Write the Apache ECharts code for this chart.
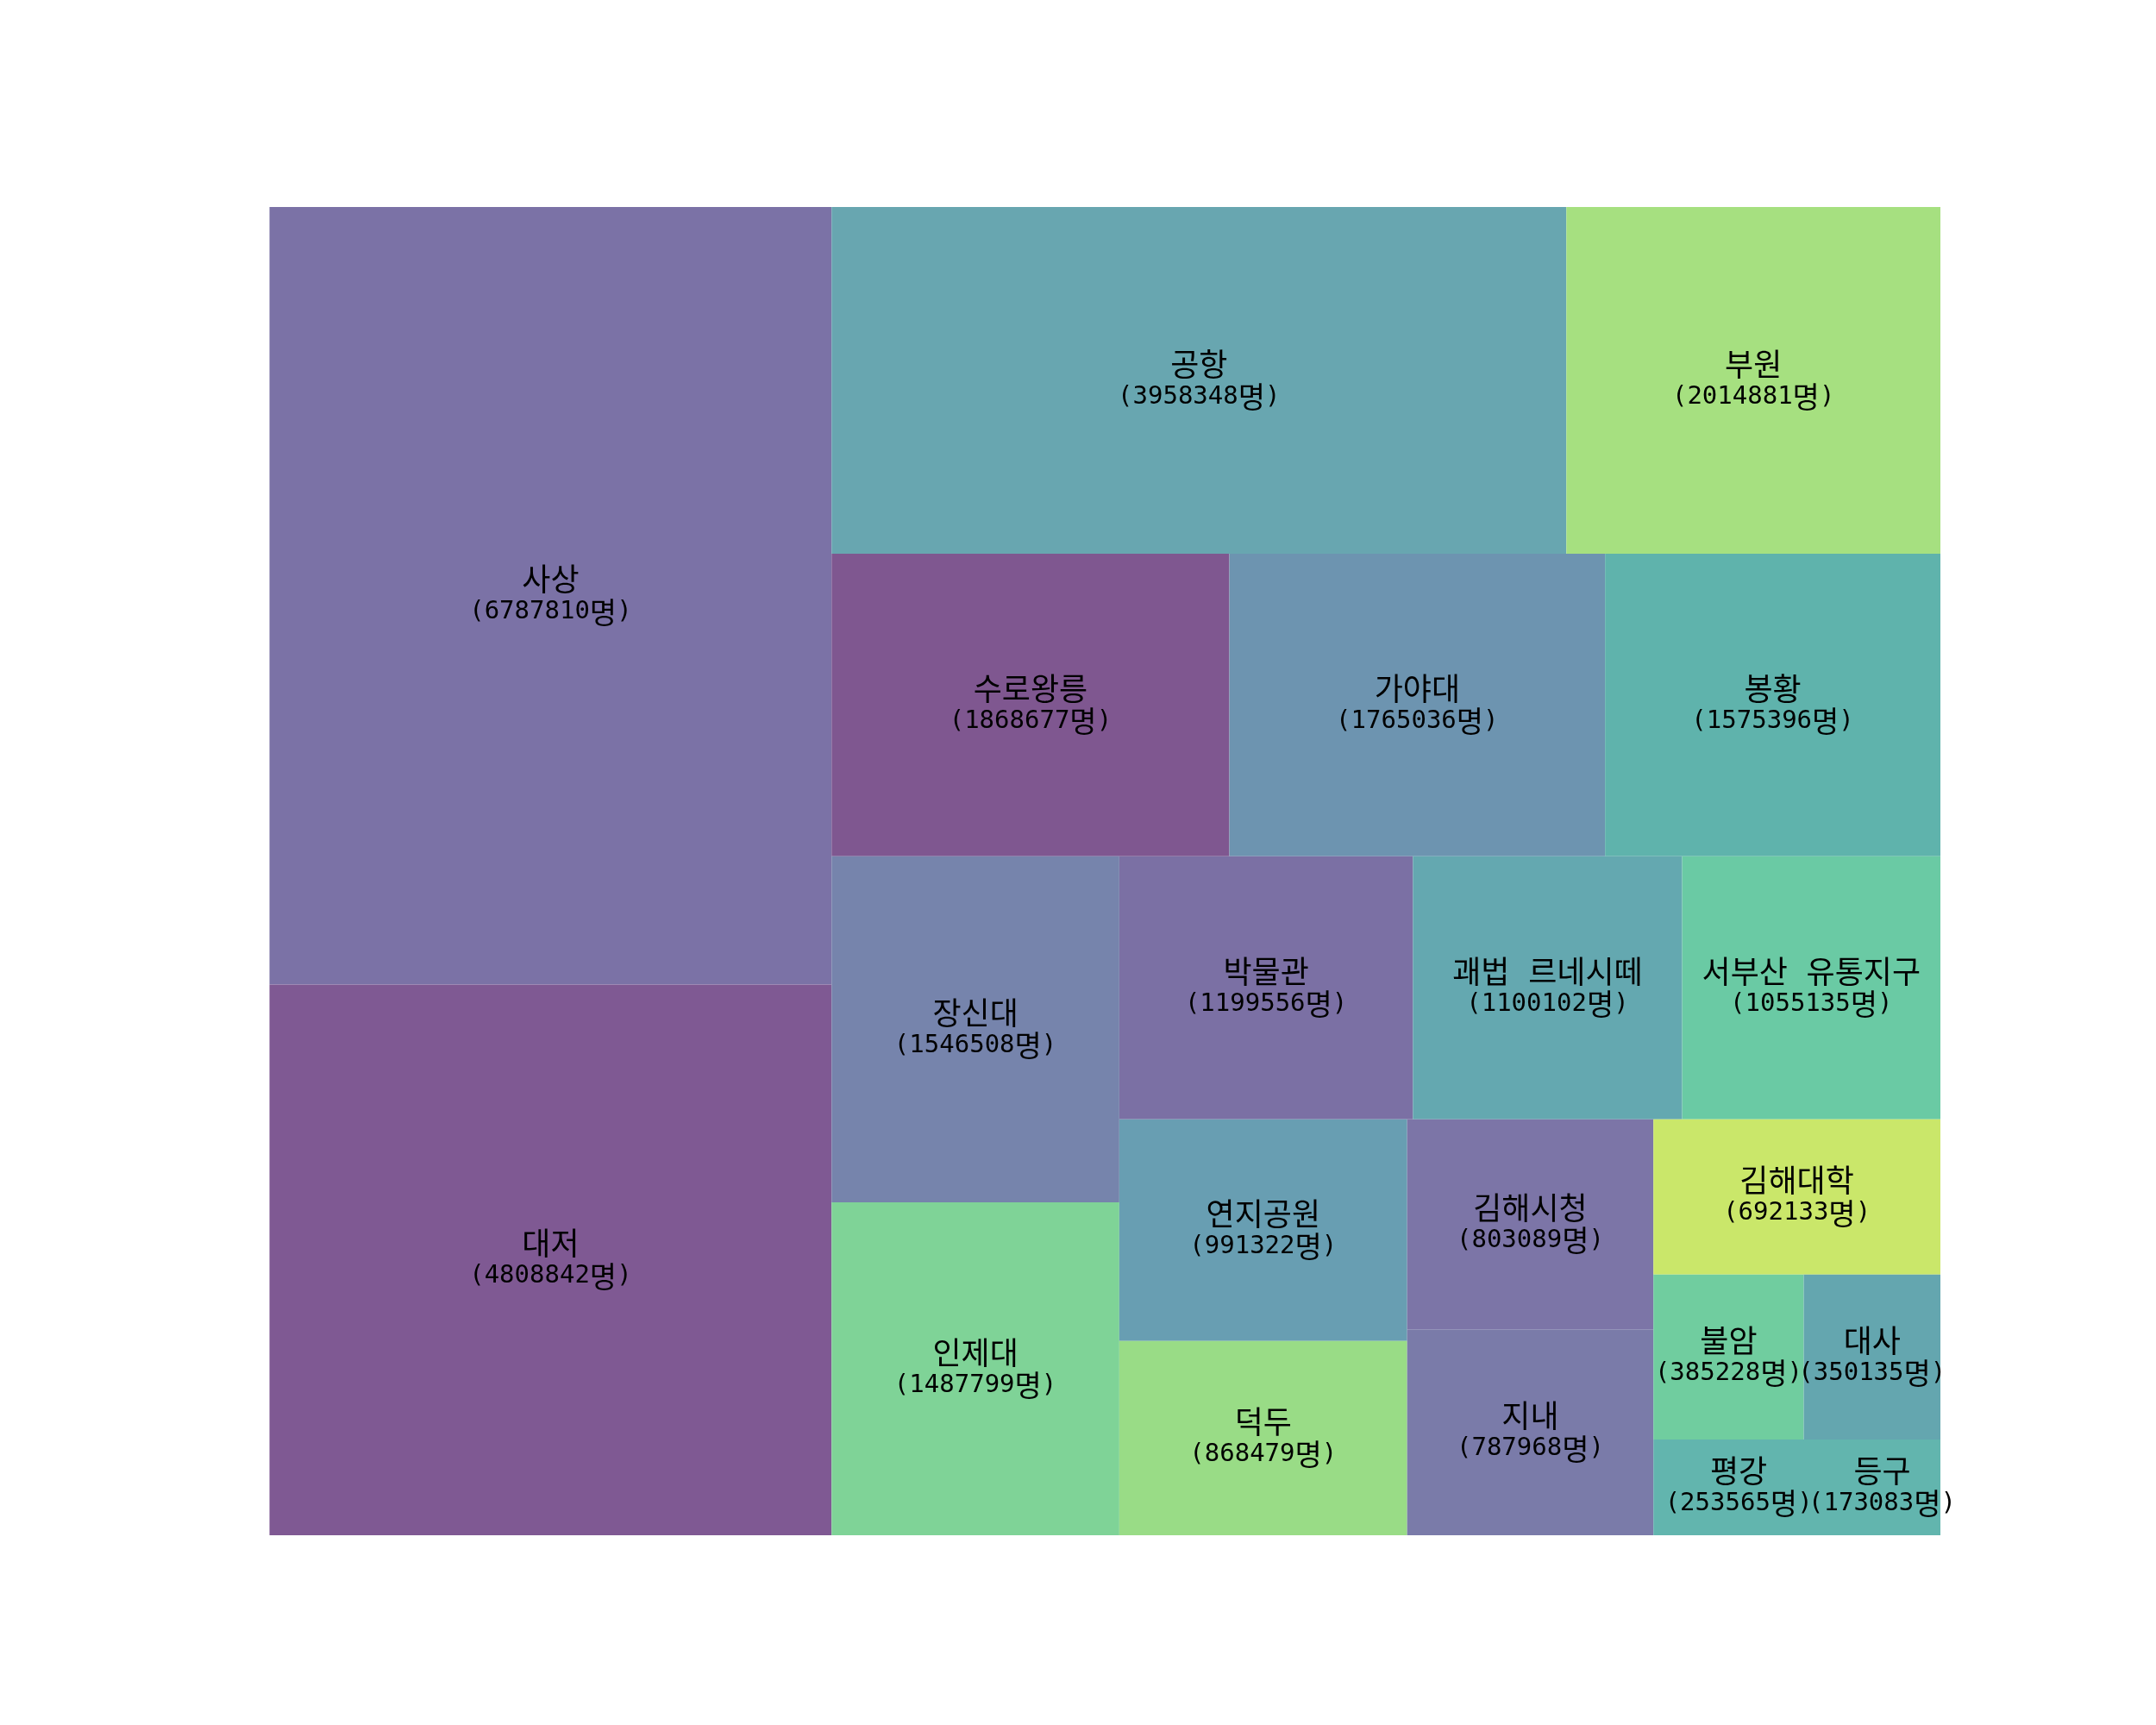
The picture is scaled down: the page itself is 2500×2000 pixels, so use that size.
<!DOCTYPE html>
<html>
<head>
<meta charset="utf-8">
<script src="https://cdn.jsdelivr.net/npm/echarts@6/dist/echarts.min.js"></script>
<style>html,body{margin:0;padding:0;background:#fff;}#c{width:2500px;height:2000px;}</style>
</head>
<body>
<div id="c"></div>
<script>
const names = ['사상','대저','공항','부원','수로왕릉','가야대','봉황','장신대','인제대','박물관','괘법 르네시떼','서부산 유통지구','연지공원','덕두','김해시청','지내','김해대학','불암','대사','평강','등구'];
const values = [6787810,4808842,3958348,2014881,1868677,1765036,1575396,1546508,1487799,1199556,1100102,1055135,991322,868479,803089,787968,692133,385228,350135,253565,173083];
const colors = ['#7B72A6','#7F5993','#68A6B0','#A6E080','#7F5790','#6D94B0','#5FB3AC','#7684AC','#7FD397','#7B70A4','#64A8B0','#6ACAA4','#689EB2','#99DC86','#7C75A7','#7A7BA9','#CAE76A','#70CD9F','#64A6AF','#62B5AE','#62B5AE'];
const unit = '명';

// squarify algorithm (same as python squarify), normalized 100 x 100
function layoutrow(s, x, y, dx, dy) {
  const cov = s.reduce((a, b) => a + b, 0); const w = cov / dy; const r = [];
  for (const v of s) { r.push({x: x, y: y, dx: w, dy: v / w}); y += v / w; }
  return r;
}
function layoutcol(s, x, y, dx, dy) {
  const cov = s.reduce((a, b) => a + b, 0); const h = cov / dx; const r = [];
  for (const v of s) { r.push({x: x, y: y, dx: v / h, dy: h}); x += v / h; }
  return r;
}
function layout(s, x, y, dx, dy) { return dx >= dy ? layoutrow(s, x, y, dx, dy) : layoutcol(s, x, y, dx, dy); }
function leftover(s, x, y, dx, dy) {
  const cov = s.reduce((a, b) => a + b, 0);
  if (dx >= dy) { const w = cov / dy; return [x + w, y, dx - w, dy]; }
  const h = cov / dx; return [x, y + h, dx, dy - h];
}
function worst(s, x, y, dx, dy) {
  return Math.max(...layout(s, x, y, dx, dy).map(r => Math.max(r.dx / r.dy, r.dy / r.dx)));
}
function squarify(s, x, y, dx, dy) {
  if (s.length === 0) return [];
  if (s.length === 1) return layout(s, x, y, dx, dy);
  let i = 1;
  while (i < s.length && worst(s.slice(0, i), x, y, dx, dy) >= worst(s.slice(0, i + 1), x, y, dx, dy)) i++;
  const cur = s.slice(0, i), rem = s.slice(i);
  const lo = leftover(cur, x, y, dx, dy);
  return layout(cur, x, y, dx, dy).concat(squarify(rem, lo[0], lo[1], lo[2], lo[3]));
}
const total = values.reduce((a, b) => a + b, 0);
const norm = values.map(v => v * 100 * 100 / total);
const rects = squarify(norm, 0, 0, 100, 100);
const data = rects.map((r, i) => [r.x, r.y, r.dx, r.dy, i]);

const chart = echarts.init(document.getElementById('c'));
chart.setOption({
  backgroundColor: '#ffffff',
  animation: false,
  grid: {left: 312.5, right: 250, top: 240, bottom: 220},
  xAxis: {type: 'value', min: 0, max: 100, show: false},
  yAxis: {type: 'value', min: 0, max: 100, inverse: true, show: false},
  series: [{
    type: 'custom',
    clip: false,
    data: data,
    encode: {x: [0], y: [1]},
    renderItem: function (params, api) {
      const x = api.value(0), y = api.value(1), dx = api.value(2), dy = api.value(3), i = api.value(4);
      const p0 = api.coord([x, y]);
      const p1 = api.coord([x + dx, y + dy]);
      const c = api.coord([x + dx / 2, y + dy / 2]);
      const nameRich = names[i].split(' ').map(w => '{h|' + w + '}').join('{s| }');
      return {
        type: 'group',
        children: [{
          type: 'rect',
          shape: {x: Math.min(p0[0], p1[0]), y: Math.min(p0[1], p1[1]), width: Math.abs(p1[0] - p0[0]), height: Math.abs(p1[1] - p0[1])},
          style: {fill: colors[i], stroke: null},
          z2: 1
        }, {
          type: 'text',
          z2: 100,
          style: {
            text: nameRich + '\n{d|(' + values[i] + '}{u|' + unit + '}{d|)}',
            x: c[0], y: c[1],
            align: 'center', verticalAlign: 'middle',
            fill: '#000000',
            rich: {
              h: {fontFamily: '"Noto Sans CJK KR"', fontSize: 36, lineHeight: 38, fill: '#000000'},
              s: {fontFamily: '"DejaVu Sans Mono"', fontSize: 36, lineHeight: 38, fill: '#000000'},
              u: {fontFamily: '"Noto Sans CJK KR"', fontSize: 34, lineHeight: 38, fill: '#000000'},
              d: {fontFamily: '"DejaVu Sans Mono"', fontSize: 29, lineHeight: 38, fill: '#000000'}
            }
          }
        }]
      };
    }
  }]
});
</script>
</body>
</html>
